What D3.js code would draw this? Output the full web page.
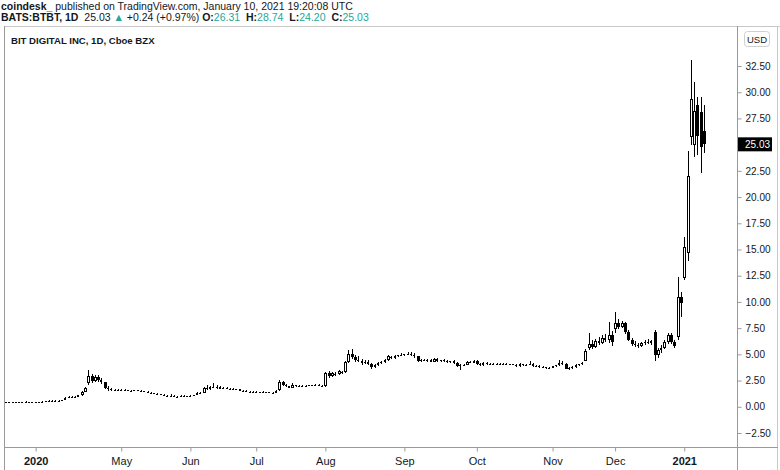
<!DOCTYPE html>
<html><head><meta charset="utf-8">
<script src="https://cdn.jsdelivr.net/npm/d3@7/dist/d3.min.js"></script>
<style>
html,body{margin:0;padding:0;background:#fff;}
svg{display:block;font-family:"Liberation Sans",Arial,sans-serif;}
</style></head>
<body><svg id="c" width="780" height="470"></svg>
<script>
const opens = [
.48,.48,.49,.48,.47,.48,.49,.48,.47,.46,
.40,.43,.50,.52,.58,.56,.57,.58,.62,.85,
.98,.92,.95,1.10,1.45,2.30,2.90,2.45,2.80,2.55,
2.35,1.80,1.65,1.62,1.60,1.58,1.60,1.56,1.52,1.55,
1.58,1.50,1.46,1.44,1.34,1.30,1.25,1.18,1.12,1.06,
1.00,1.02,.98,.96,1.02,1.00,1.03,1.05,1.10,1.35,
1.30,1.75,1.70,1.88,1.80,1.92,1.72,1.78,1.70,1.74,
1.66,1.68,1.54,1.50,1.44,1.38,1.42,1.36,1.40,1.35,
1.38,1.36,1.34,1.60,2.40,2.05,1.95,1.82,2.05,1.98,
2.02,1.96,2.00,2.05,1.98,2.10,1.98,1.95,3.20,2.90,
3.05,3.10,3.20,3.30,4.30,5.00,4.75,4.50,4.40,4.15,
4.30,4.10,3.80,3.95,4.20,4.25,4.50,4.75,4.65,4.85,
4.90,4.95,5.00,5.05,4.95,4.80,4.40,4.50,4.42,4.48,
4.30,4.60,4.35,4.45,4.38,4.25,4.32,4.18,3.90,3.95,
4.00,4.25,4.20,4.38,4.05,3.95,4.20,4.05,4.10,4.12,
4.05,4.10,4.08,4.02,4.05,3.98,3.85,4.05,3.95,4.00,
4.05,3.85,3.92,3.75,3.80,3.66,3.72,3.85,3.95,4.20,
4.10,3.65,3.72,3.78,3.98,4.05,4.40,5.60,6.00,5.70,
6.30,6.10,6.60,6.40,6.80,7.40,8.00,7.60,8.00,7.10,
6.40,6.00,5.90,5.75,6.10,6.20,6.05,7.10,4.90,5.40,
5.60,6.20,6.80,6.20,6.70,10.50,12.30,14.70,25.70,25.00,
28.80,28.10,26.31];
const highs = [
.50,.50,.50,.50,.49,.50,.51,.50,.49,.47,
.45,.52,.56,.60,.62,.60,.62,.66,.90,1.05,
1.02,1.00,1.15,1.55,1.85,3.50,3.10,3.00,3.05,2.75,
2.40,1.95,1.75,1.70,1.68,1.65,1.66,1.62,1.60,1.64,
1.62,1.56,1.52,1.48,1.40,1.36,1.30,1.24,1.20,1.12,
1.20,1.08,1.05,1.15,1.08,1.06,1.10,1.14,1.40,1.45,
1.85,2.10,2.00,2.30,2.05,2.00,1.85,1.84,1.80,1.80,
1.74,1.72,1.62,1.58,1.50,1.48,1.50,1.44,1.46,1.42,
1.44,1.42,1.60,2.60,2.50,2.20,2.00,2.25,2.12,2.10,
2.08,2.05,2.12,2.10,2.15,2.14,2.06,3.30,3.40,3.30,
3.30,3.50,3.45,4.40,5.40,5.55,4.90,4.80,4.55,4.50,
4.45,4.20,4.10,4.30,4.35,4.60,4.90,4.85,4.90,4.95,
5.10,5.05,5.25,5.20,5.10,4.85,4.60,4.60,4.55,4.60,
4.70,4.65,4.50,4.60,4.50,4.40,4.45,4.25,4.05,4.10,
4.35,4.35,4.45,4.45,4.20,4.25,4.28,4.15,4.18,4.20,
4.15,4.16,4.14,4.10,4.12,4.10,4.15,4.10,4.08,4.40,
4.20,4.00,3.98,3.85,3.84,3.78,3.90,4.00,4.50,4.40,
4.15,3.80,3.85,4.05,4.10,4.30,5.50,7.00,6.40,6.50,
6.70,6.80,6.90,8.10,7.20,9.00,8.40,8.20,8.05,7.30,
6.60,6.30,6.10,6.20,6.40,6.50,6.40,7.30,5.60,5.90,
6.40,7.00,7.00,6.40,12.40,10.90,16.20,24.40,33.10,31.00,
29.50,29.50,28.74];
const lows = [
.46,.47,.47,.46,.46,.47,.47,.46,.45,.38,
.38,.42,.48,.50,.54,.52,.54,.55,.60,.80,
.88,.86,.90,1.05,1.40,2.10,2.30,2.35,2.40,2.20,
1.70,1.55,1.55,1.55,1.52,1.50,1.52,1.48,1.46,1.50,
1.48,1.42,1.40,1.30,1.28,1.22,1.15,1.08,1.02,.96,
.95,.94,.92,.94,.96,.95,.98,1.00,1.08,1.25,
1.28,1.60,1.62,1.75,1.70,1.68,1.65,1.66,1.64,1.62,
1.58,1.50,1.46,1.40,1.34,1.32,1.34,1.30,1.32,1.30,
1.32,1.30,1.32,1.55,1.95,1.85,1.78,1.80,1.92,1.90,
1.92,1.88,1.95,1.94,1.96,1.95,1.92,1.90,2.75,2.85,
2.95,3.05,3.10,3.20,4.20,4.60,4.30,4.30,4.00,4.05,
4.00,3.65,3.70,3.85,4.10,4.20,4.40,4.55,4.60,4.75,
4.80,4.85,4.90,4.85,4.70,4.30,4.30,4.35,4.30,4.25,
4.25,4.30,4.25,4.30,4.20,4.15,4.10,3.80,3.55,3.85,
3.95,4.15,4.15,4.00,3.90,3.90,4.00,3.98,4.02,4.00,
3.98,4.02,3.98,3.94,3.96,3.80,3.82,3.90,3.88,3.95,
3.80,3.78,3.70,3.68,3.62,3.60,3.68,3.80,3.90,4.00,
3.60,3.50,3.65,3.72,3.90,3.95,4.35,5.40,5.50,5.60,
5.90,6.00,6.20,6.10,5.80,7.00,7.40,7.50,6.90,6.30,
5.80,5.70,5.60,5.70,5.90,5.95,5.90,4.40,4.70,5.10,
5.50,6.00,6.00,5.60,6.40,8.60,12.10,13.90,25.00,23.80,
24.00,22.30,24.20];
const closes = [
.48,.49,.48,.47,.48,.49,.48,.47,.46,.40,
.43,.50,.52,.58,.56,.57,.58,.62,.85,.98,
.92,.95,1.10,1.45,1.75,2.95,2.45,2.80,2.55,2.35,
1.80,1.65,1.62,1.60,1.58,1.60,1.56,1.52,1.55,1.58,
1.50,1.46,1.44,1.34,1.30,1.25,1.18,1.12,1.06,1.00,
1.02,.98,.96,1.02,1.00,1.03,1.05,1.10,1.35,1.30,
1.75,1.70,1.88,1.80,1.92,1.72,1.78,1.70,1.74,1.66,
1.68,1.54,1.50,1.44,1.38,1.42,1.36,1.40,1.35,1.38,
1.36,1.34,1.55,2.40,2.05,1.95,1.82,2.05,1.98,2.02,
1.96,2.00,2.05,1.98,2.10,1.98,2.00,3.20,2.90,3.20,
3.10,3.40,3.30,4.30,5.00,4.75,4.50,4.40,4.15,4.30,
4.10,3.80,3.95,4.20,4.25,4.50,4.80,4.65,4.85,4.90,
4.95,5.00,5.05,4.95,4.80,4.40,4.50,4.42,4.48,4.30,
4.60,4.35,4.45,4.38,4.25,4.32,4.18,3.90,3.95,4.00,
4.25,4.20,4.38,4.05,3.95,4.20,4.05,4.10,4.12,4.05,
4.10,4.08,4.02,4.05,3.98,3.85,4.05,3.95,4.00,4.05,
3.85,3.92,3.75,3.80,3.66,3.72,3.85,3.95,4.20,4.10,
3.65,3.72,3.78,3.98,4.05,4.20,5.35,6.00,5.70,6.30,
6.10,6.60,6.40,6.80,6.20,8.00,7.60,8.00,7.10,6.40,
6.00,5.90,5.75,6.10,6.20,6.05,6.30,4.90,5.40,5.60,
6.20,6.80,6.20,5.80,10.50,9.90,15.20,22.00,29.40,28.20,
25.80,24.79,25.03];

const monthTickIndex = [9,35,56,76,97,121,143,166,185,206];
const monthTickLabels = ["2020","May","Jun","Jul","Aug","Sep","Oct","Nov","Dec","2021"];
const priceTicks = [-2.5,0,2.5,5,7.5,10,12.5,15,17.5,20,22.5,25,27.5,30,32.5];
const lastPrice = 25.03;

const N = closes.length;
const svg = d3.select("#c");
const ink = "#131722";
const frame = "#9a9a9a";

const x = d3.scaleLinear().domain([0, N-1]).range([6, 704]);
const y = d3.scaleLinear().domain([-2.5, 32.5]).range([433, 66]);

// header
const h1 = svg.append("text").attr("x",1).attr("y",10).attr("font-size",10.5).attr("fill",ink);
h1.append("tspan").attr("font-weight","bold").text("coindesk_");
h1.append("tspan").text(" published on TradingView.com, January 10, 2021 19:20:08 UTC");
const h2 = svg.append("text").attr("x",1).attr("y",21).attr("font-size",10.5).attr("fill",ink);
const teal = "#26a69a";
h2.append("tspan").attr("font-weight","bold").text("BATS:BTBT, 1D");
h2.append("tspan").attr("dx",3).text(" 25.03 ");
h2.append("tspan").attr("fill",teal).text("▲");
h2.append("tspan").text(" +0.24 (+0.97%) ");
[["O:","26.31"],["H:","28.74"],["L:","24.20"],["C:","25.03"]].forEach((p,i)=>{
  h2.append("tspan").attr("font-weight","bold").attr("dx",i?3:0).text((i?" ":"")+p[0]);
  h2.append("tspan").attr("fill",teal).text(p[1]);
});

// frame
svg.append("line").attr("x1",5).attr("x2",780).attr("y1",26.5).attr("y2",26.5).attr("stroke","#c8c8c8");
svg.append("line").attr("x1",4.5).attr("x2",4.5).attr("y1",26).attr("y2",470).attr("stroke",frame);
svg.append("line").attr("x1",737.5).attr("x2",737.5).attr("y1",26).attr("y2",470).attr("stroke",frame);
svg.append("line").attr("x1",777.5).attr("x2",777.5).attr("y1",26).attr("y2",470).attr("stroke","#c8c8c8");
svg.append("line").attr("x1",5).attr("x2",778).attr("y1",447.5).attr("y2",447.5).attr("stroke",frame);

svg.append("text").attr("x",11).attr("y",44).attr("font-size",9.6).attr("font-weight","bold").attr("fill",ink)
  .text("BIT DIGITAL INC, 1D, Cboe BZX");

// candles
const g = svg.append("g").attr("shape-rendering","crispEdges");
const idx = d3.range(N);
const cx = i => Math.round(x(i));
g.selectAll("line.wick").data(idx).join("line")
  .attr("x1",i=>cx(i)+0.5).attr("x2",i=>cx(i)+0.5)
  .attr("y1",i=>Math.round(y(highs[i]))).attr("y2",i=>Math.round(y(lows[i])))
  .attr("stroke","#000").attr("stroke-width",1);
const bodyTop = i => Math.round(y(Math.max(opens[i],closes[i])));
const bodyH = i => Math.max(1, Math.round(y(Math.min(opens[i],closes[i]))) - bodyTop(i));
const isUp = i => closes[i] >= opens[i];
g.selectAll("rect.solid").data(idx.filter(i => !isUp(i) || bodyH(i) < 3)).join("rect")
  .attr("x",i=>bodyH(i) < 3 ? cx(i)-1 : cx(i)-1)
  .attr("width",i=>bodyH(i) < 3 ? 2 : 3)
  .attr("y",bodyTop).attr("height",bodyH)
  .attr("fill","#000");
g.selectAll("rect.hollow").data(idx.filter(i => isUp(i) && bodyH(i) >= 3)).join("rect")
  .attr("x",i=>cx(i)-0.5).attr("width",2)
  .attr("y",i=>bodyTop(i)+0.5).attr("height",i=>bodyH(i)-1)
  .attr("fill","#fff").attr("stroke","#000").attr("stroke-width",1)
  .attr("shape-rendering","auto");

// right axis
const ya = svg.append("g").attr("transform","translate(737.5,0)")
  .call(d3.axisRight(y).tickValues(priceTicks).tickFormat(d3.format(".2f")).tickSize(4).tickPadding(4));
ya.select(".domain").remove();
ya.selectAll(".tick line").attr("stroke",frame);
ya.selectAll(".tick text").attr("font-size",10).attr("fill",ink).attr("font-family","Liberation Sans, Arial, sans-serif");

// USD box
svg.append("rect").attr("x",744.5).attr("y",31.5).attr("width",25).attr("height",15).attr("rx",3)
  .attr("fill","#fff").attr("stroke","#d0d0d0");
svg.append("text").attr("x",757).attr("y",42.5).attr("text-anchor","middle").attr("font-size",9.5).attr("fill",ink).text("USD");

// last price label
const ly = y(lastPrice);
svg.append("rect").attr("x",738).attr("y",ly-7).attr("width",34).attr("height",14).attr("fill","#000");
svg.append("text").attr("x",745).attr("y",ly+3.5).attr("font-size",10).attr("fill","#fff").text(d3.format(".2f")(lastPrice));

// bottom axis
const xa = svg.append("g").attr("transform","translate(0,447.5)")
  .call(d3.axisBottom(x).tickValues(monthTickIndex).tickFormat((d,i)=>monthTickLabels[i]).tickSize(4).tickPadding(6));
xa.select(".domain").remove();
xa.selectAll(".tick line").attr("stroke",frame);
xa.selectAll(".tick text").attr("font-size",11).attr("fill",ink).attr("font-family","Liberation Sans, Arial, sans-serif")
  .attr("font-weight",(d,i)=>/^\d{4}$/.test(monthTickLabels[i])?"bold":"normal");
</script></body></html>
